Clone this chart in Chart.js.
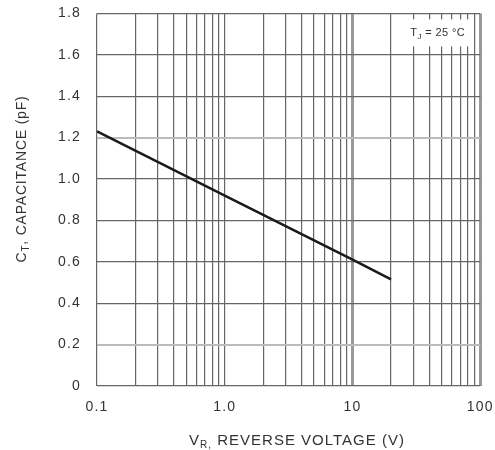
<!DOCTYPE html>
<html>
<head>
<meta charset="utf-8">
<script src="https://cdn.jsdelivr.net/npm/chart.js@4"></script>
<style>
  html, body { margin: 0; padding: 0; background: #fff; }
  #wrap { width: 495px; height: 450px; }
</style>
</head>
<body>
<div id="wrap"><canvas id="chart" width="495" height="450"></canvas></div>
<script>
// reverse voltage (V) vs capacitance (pF)
const voltage = [0.1, 1, 10, 20];
const capacitance = [1.23, 0.92, 0.61, 0.515];

const xMin = 0.1, xMax = 100;
const yMin = 0, yMax = 1.8, yStep = 0.2;
const xTickLabels = { 0.1: "0.1", 1: "1.0", 10: "10", 100: "100" };
const legendText = ["T", "J", " = 25 °C"];

const FONT = "'Liberation Sans', Arial, sans-serif";

// draws text pieces one after another, the middle one as a subscript
function drawSub(ctx, parts, x, y, big, small) {
  ctx.font = big + "px " + FONT;
  ctx.fillText(parts[0], x, y);
  x += ctx.measureText(parts[0]).width;
  ctx.font = small + "px " + FONT;
  ctx.fillText(parts[1], x, y + 3);
  x += ctx.measureText(parts[1]).width;
  ctx.font = big + "px " + FONT;
  ctx.fillText(parts[2], x, y);
  return x + ctx.measureText(parts[2]).width;
}

function widthSub(ctx, parts, big, small) {
  ctx.font = big + "px " + FONT;
  let w = ctx.measureText(parts[0]).width + ctx.measureText(parts[2]).width;
  ctx.font = small + "px " + FONT;
  return w + ctx.measureText(parts[1]).width;
}

const spacingPlugin = {
  id: "spacing",
  beforeDraw(chart) { chart.ctx.letterSpacing = "1.2px"; }
};

// axis titles (with subscripts) and the Tj box
const labelsPlugin = {
  id: "labels",
  afterDraw(chart) {
    const ctx = chart.ctx;
    const area = chart.chartArea;
    ctx.save();
    ctx.fillStyle = "#333";
    ctx.textAlign = "left";
    ctx.textBaseline = "alphabetic";

    // x title
    ctx.letterSpacing = "1px";
    const xt = ["V", "R,", " REVERSE VOLTAGE (V)"];
    let w = widthSub(ctx, xt, 15, 10);
    drawSub(ctx, xt, 297 - w / 2, 445, 15, 10);

    // y title, rotated
    ctx.save();
    ctx.translate(26, 179);
    ctx.rotate(-Math.PI / 2);
    ctx.letterSpacing = "0.8px";
    const yt = ["C", "T", ", CAPACITANCE (pF)"];
    w = widthSub(ctx, yt, 14, 10);
    drawSub(ctx, yt, -w / 2, 0, 14, 10);
    ctx.restore();

    // Tj box in the top right corner
    ctx.fillStyle = "#fff";
    ctx.fillRect(area.right - 75, area.top + 6, 67, 27);
    ctx.fillStyle = "#333";
    ctx.letterSpacing = "0.4px";
    drawSub(ctx, legendText, area.right - 70, area.top + 23, 11, 8);
    ctx.restore();
  }
};

new Chart(document.getElementById("chart"), {
  type: "line",
  data: {
    datasets: [{
      data: voltage.map((v, i) => ({ x: v, y: capacitance[i] })),
      borderColor: "#1a1a1a",
      borderWidth: 2.5,
      pointRadius: 0,
      tension: 0
    }]
  },
  options: {
    responsive: false,
    animation: false,
    layout: { padding: 0 },
    plugins: { legend: { display: false }, tooltip: { enabled: false } },
    scales: {
      x: {
        type: "logarithmic",
        min: xMin,
        max: xMax,
        afterBuildTicks(scale) {
          const ticks = [];
          for (let dec = 0.1; dec < 100; dec *= 10) {
            for (let m = 1; m < 10; m++) ticks.push({ value: +(m * dec).toPrecision(3) });
          }
          ticks.push({ value: 100 });
          scale.ticks = ticks;
        },
        afterFit(scale) { scale.height = 64; },
        ticks: {
          autoSkip: false,
          maxRotation: 0,
          padding: 3,
          color: "#333",
          font: { family: FONT, size: 14 },
          callback: v => xTickLabels[v] || ""
        },
        grid: {
          tickLength: 10,
          tickColor: "rgba(0,0,0,0)",
          color: ctx => {
            const v = ctx.tick && ctx.tick.value;
            return (v === 10 || v === 100) ? "#999" : "#666";
          },
          lineWidth: ctx => {
            const v = ctx.tick && ctx.tick.value;
            return (v === 10 || v === 100) ? 3 : 1.2;
          }
        },
        border: { display: false }
      },
      y: {
        min: yMin,
        max: yMax,
        afterFit(scale) { scale.width = 97; },
        ticks: {
          stepSize: yStep,
          padding: 5,
          color: "#333",
          font: { family: FONT, size: 14 },
          callback: v => v === 0 ? "0" : v.toFixed(1)
        },
        grid: {
          tickLength: 11,
          tickColor: "rgba(0,0,0,0)",
          color: ctx => {
            const v = ctx.tick && ctx.tick.value;
            return (Math.abs(v - 1.2) < 1e-6 || Math.abs(v - 0.2) < 1e-6) ? "#bbb" : "#666";
          },
          lineWidth: ctx => {
            const v = ctx.tick && ctx.tick.value;
            return (Math.abs(v - 1.2) < 1e-6 || Math.abs(v - 0.2) < 1e-6) ? 2 : 1.2;
          }
        },
        border: { display: false }
      }
    }
  },
  plugins: [spacingPlugin, labelsPlugin]
});
</script>
</body>
</html>
